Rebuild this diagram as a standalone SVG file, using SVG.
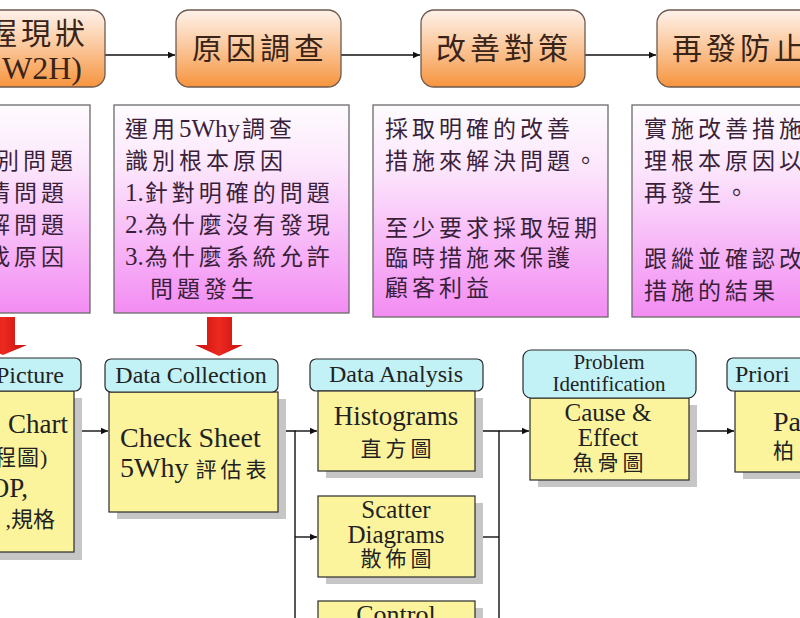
<svg xmlns="http://www.w3.org/2000/svg" width="800" height="618" viewBox="0 0 800 618">
<defs>
<linearGradient id="gOrange" x1="0" y1="0" x2="0" y2="1">
<stop offset="0" stop-color="#fef2ea"/><stop offset="0.45" stop-color="#fbcaa0"/><stop offset="1" stop-color="#f6943e"/>
</linearGradient>
<linearGradient id="gPink" x1="0" y1="0" x2="0" y2="1">
<stop offset="0" stop-color="#fefcfe"/><stop offset="0.3" stop-color="#fce6fc"/><stop offset="1" stop-color="#f38cf3"/>
</linearGradient>
<linearGradient id="gRed" x1="0" y1="0" x2="1" y2="0">
<stop offset="0" stop-color="#c80e0e"/><stop offset="0.5" stop-color="#ec2a20"/><stop offset="1" stop-color="#c80e0e"/>
</linearGradient>
<marker id="ah" markerWidth="8" markerHeight="8" refX="7" refY="4" orient="auto" markerUnits="userSpaceOnUse">
<path d="M0,0.8 L7,4 L0,7.2 Z" fill="#111"/>
</marker>
</defs>
<style>
.top{fill:url(#gOrange);stroke:#6e5a50;stroke-width:1.3}
.pink{fill:url(#gPink);stroke:#6a6a6a;stroke-width:1.3}
.hdr{fill:#c3f2f6;stroke:#2a2a2a;stroke-width:1.2}
.body{fill:#fbf49d;stroke:#2a2a2a;stroke-width:1.2}
.shd{fill:#c6c6c6}
.red{fill:url(#gRed)}
.conn{stroke:#111;stroke-width:1.4;fill:none}
text{font-family:"Liberation Serif","Noto Sans CJK TC",serif;fill:#222}
.tt{font-size:30px;letter-spacing:4px;fill:#3a2418}
.pt{font-size:23px;letter-spacing:4px;fill:#3a1f3a}
.lat{letter-spacing:0}
.ht{font-size:24px}
.bt{font-size:26px}
.ct{font-size:21px;letter-spacing:4px}
</style>
<rect width="800" height="618" fill="#ffffff"/>

<g id="connectors">
<line class="conn" x1="105" y1="55" x2="175" y2="55" marker-end="url(#ah)"/>
<line class="conn" x1="341" y1="55" x2="420" y2="55" marker-end="url(#ah)"/>
<line class="conn" x1="585" y1="55" x2="656" y2="55" marker-end="url(#ah)"/>
<line class="conn" x1="82" y1="431" x2="108" y2="431" marker-end="url(#ah)"/>
<polyline class="conn" points="286,431 295,431 295,620"/>
<line class="conn" x1="295" y1="431" x2="317" y2="431" marker-end="url(#ah)"/>
<line class="conn" x1="295" y1="537" x2="317" y2="537" marker-end="url(#ah)"/>
<polyline class="conn" points="483,431 499,431 499,620"/>
<line class="conn" x1="483" y1="537" x2="499" y2="537"/>
<line class="conn" x1="499" y1="431" x2="529" y2="431" marker-end="url(#ah)"/>
<line class="conn" x1="697" y1="431" x2="734" y2="431" marker-end="url(#ah)"/>
</g>

<g id="step1">
<rect class="top" x="-30" y="10" width="135" height="77" rx="13"/>
<text class="tt" x="-13" y="44">握現狀</text>
<text class="tt lat" x="2" y="79" style="font-size:32px">W2H)</text>
</g>
<g id="step2">
<rect class="top" x="176" y="10" width="165" height="77" rx="13"/>
<text class="tt" x="260" y="59" text-anchor="middle">原因調查</text>
</g>
<g id="step3">
<rect class="top" x="421" y="10" width="164" height="77" rx="13"/>
<text class="tt" x="504" y="59" text-anchor="middle">改善對策</text>
</g>
<g id="step4">
<rect class="top" x="657" y="10" width="170" height="77" rx="13"/>
<text class="tt" x="672" y="59">再發防止</text>
</g>

<g id="desc1">
<rect class="pink" x="-20" y="105" width="110" height="208"/>
<text class="pt" x="-4" y="169">別問題</text>
<text class="pt" x="-13" y="201">清問題</text>
<text class="pt" x="-13" y="233">解問題</text>
<text class="pt" x="-13" y="265">找原因</text>
</g>
<g id="desc2">
<rect class="pink" x="114" y="105" width="235" height="208"/>
<text class="pt" x="125" y="137">運用<tspan class="lat" style="font-size:25px">5Why</tspan><tspan dx="2">調查</tspan></text>
<text class="pt" x="125" y="169">識別根本原因</text>
<text class="pt" x="125" y="201"><tspan class="lat" style="font-size:25px">1.</tspan><tspan dx="1">針對明確的問題</tspan></text>
<text class="pt" x="125" y="233"><tspan class="lat" style="font-size:25px">2.</tspan><tspan dx="1">為什麼沒有發現</tspan></text>
<text class="pt" x="125" y="265"><tspan class="lat" style="font-size:25px">3.</tspan><tspan dx="1">為什麼系統允許</tspan></text>
<text class="pt" x="150" y="297">問題發生</text>
</g>
<g id="desc3">
<rect class="pink" x="373" y="105" width="235" height="212"/>
<text class="pt" x="385" y="137">採取明確的改善</text>
<text class="pt" x="385" y="169">措施來解決問題。</text>
<text class="pt" x="385" y="236">至少要求採取短期</text>
<text class="pt" x="385" y="266">臨時措施來保護</text>
<text class="pt" x="385" y="296">顧客利益</text>
</g>
<g id="desc4">
<rect class="pink" x="632" y="105" width="200" height="212"/>
<text class="pt" x="644" y="137">實施改善措施</text>
<text class="pt" x="644" y="169">理根本原因以</text>
<text class="pt" x="644" y="201">再發生。</text>
<text class="pt" x="644" y="267">跟縱並確認改</text>
<text class="pt" x="644" y="299">措施的結果</text>
</g>

<g id="redArrows">
<path class="red" d="M-10,317 L15,317 L15,345 L27,345 L3,355 L-21,345 L-10,345 Z"/>
<path class="red" d="M207,317 L232,317 L232,345 L243,345 L219,356 L195,345 L207,345 Z"/>
</g>

<g id="picture">
<rect class="shd" x="-12" y="398" width="94" height="162"/>
<rect class="body" x="-20" y="391" width="94" height="161"/>
<rect class="hdr" x="-20" y="358" width="101" height="33" rx="6"/>
<text class="ht" x="64" y="383" text-anchor="end">Picture</text>
<text class="bt" x="68" y="433" text-anchor="end" style="font-size:27px">Chart</text>
<text class="ct" x="-6" y="465" style="font-size:22px;letter-spacing:1px">程圖<tspan class="lat">)</tspan></text>
<text class="bt" x="28" y="497" text-anchor="end" style="font-size:27px">OP,</text>
<text class="ct" x="55" y="527" text-anchor="end" style="font-size:22px;letter-spacing:0">,規格</text>
</g>

<g id="dataCollection">
<rect class="shd" x="117" y="399" width="169" height="120"/>
<rect class="body" x="109" y="392" width="169" height="120"/>
<rect class="hdr" x="105" y="359" width="173" height="33" rx="6"/>
<text class="ht" x="191" y="383" text-anchor="middle">Data Collection</text>
<text class="bt" x="120" y="447" style="font-size:28px">Check Sheet</text>
<text class="bt" x="120" y="477" style="font-size:28px">5Why <tspan style="font-size:21px;letter-spacing:4px">評估表</tspan></text>
</g>

<g id="dataAnalysis">
<rect class="hdr" x="310" y="359" width="173" height="32" rx="6"/>
<text class="ht" x="396" y="382" text-anchor="middle">Data Analysis</text>
</g>
<g id="histograms">
<rect class="shd" x="326" y="398" width="157" height="80"/>
<rect class="body" x="318" y="391" width="157" height="80"/>
<text class="bt" x="396" y="425" text-anchor="middle" style="font-size:27px">Histograms</text>
<text class="ct" x="398" y="456" text-anchor="middle">直方圖</text>
</g>
<g id="scatter">
<rect class="shd" x="326" y="503" width="157" height="81"/>
<rect class="body" x="318" y="496" width="157" height="81"/>
<text class="bt" x="396" y="518" text-anchor="middle" style="font-size:25px">Scatter</text>
<text class="bt" x="396" y="543" text-anchor="middle" style="font-size:25px">Diagrams</text>
<text class="ct" x="398" y="566" text-anchor="middle">散佈圖</text>
</g>
<g id="control">
<rect class="shd" x="326" y="608" width="157" height="40"/>
<rect class="body" x="318" y="601" width="157" height="40"/>
<text class="bt" x="396" y="623" text-anchor="middle">Control</text>
</g>

<g id="problemIdentification">
<rect class="shd" x="538" y="405" width="159" height="82"/>
<rect class="body" x="530" y="398" width="159" height="82"/>
<rect class="hdr" x="523" y="350" width="173" height="48" rx="8"/>
<text class="ht" x="609" y="369" text-anchor="middle" style="font-size:21px">Problem</text>
<text class="ht" x="609" y="391" text-anchor="middle" style="font-size:21px">Identification</text>
<text class="bt" x="608" y="421" text-anchor="middle" style="font-size:25px">Cause &amp;</text>
<text class="bt" x="608" y="446" text-anchor="middle" style="font-size:25px">Effect</text>
<text class="ct" x="610" y="470" text-anchor="middle">魚骨圖</text>
</g>

<g id="prioritization">
<rect class="shd" x="743" y="398" width="80" height="81"/>
<rect class="body" x="735" y="391" width="80" height="81"/>
<rect class="hdr" x="727" y="358" width="90" height="33" rx="6"/>
<text class="ht" x="735" y="382">Priori</text>
<text class="bt" x="773" y="431" style="font-size:28px">Pa</text>
<text class="ct" x="773" y="458">柏</text>
</g>
</svg>
